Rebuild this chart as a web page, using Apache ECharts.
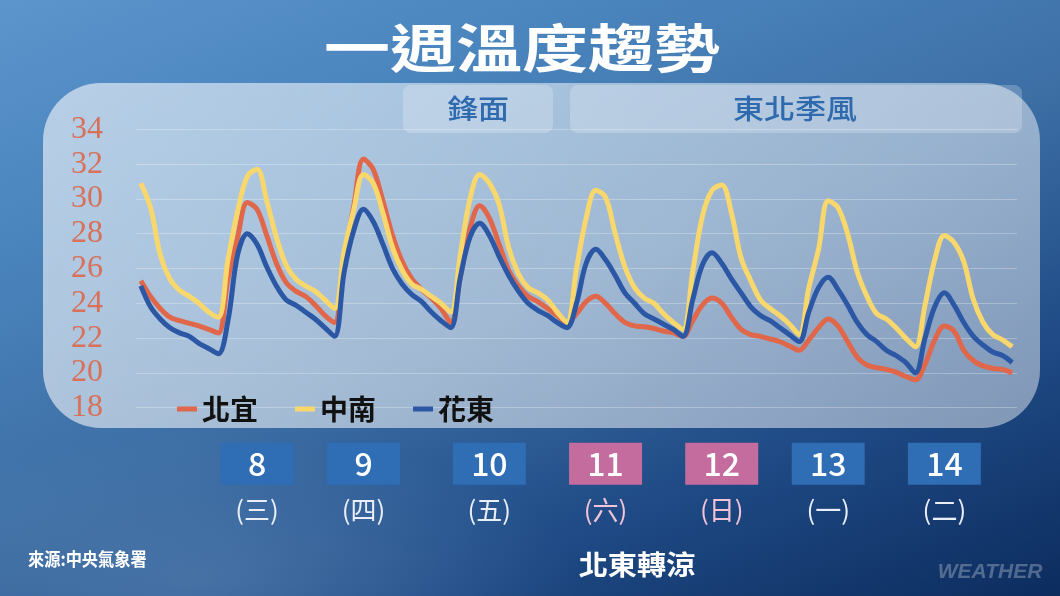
<!DOCTYPE html>
<html><head><meta charset="utf-8">
<script src="https://cdn.jsdelivr.net/npm/echarts@6/dist/echarts.min.js"></script>
<style>
html,body{margin:0;padding:0;}
#c{width:1060px;height:596px;
background:
 radial-gradient(ellipse 380px 150px at 200px 580px, rgba(110,150,195,0.40), rgba(110,150,195,0) 100%),
 linear-gradient(158deg, #5c95cc 0%, #4a84bd 25%, #3d6fa5 50%, #1f4a85 75%, #0c2c5e 100%);}
</style>
</head><body><div id="c"></div>
<script>
// ---- time categories (2-hourly, from day 7 14:00) ----
const startDay = 7, startHour = 14, stepHours = 2, nPoints = 91;
const categories = [];
for (let i = 0; i < nPoints; i++) {
  const h = startHour + i * stepHours;
  categories.push((startDay + Math.floor(h / 24)) + '日' + String(h % 24).padStart(2, '0') + '時');
}
// ---- series values (°C) ----
const beiyi = [25.3,24.4,23.7,23.2,23.0,22.85,22.7,22.5,22.3,25.4,27.8,29.8,29.4,27.9,26.3,25.2,24.7,24.4,23.9,23.3,22.9,
  26.6,29.6,32.3,31.7,29.9,27.9,26.4,25.4,24.8,24.3,23.7,22.9,
  25.5,28.3,29.6,28.9,27.4,25.9,25.0,24.4,24.1,23.7,23.3,22.9,
  23.4,24.1,24.4,24.0,23.4,22.9,22.7,22.65,22.55,22.4,22.3,22.1,
  23.0,23.9,24.3,24.0,23.2,22.5,22.2,22.1,21.95,21.8,21.55,21.3,
  21.9,22.6,23.1,22.7,21.8,20.9,20.45,20.3,20.2,20.05,19.8,19.6,
  20.5,21.9,22.7,22.4,21.3,20.7,20.4,20.25,20.2,20.0];
const zhongnan = [30.9,29.5,26.8,25.4,24.75,24.4,24.0,23.5,23.2,26.5,29.3,31.3,31.7,29.9,27.8,26.2,25.4,25.0,24.7,24.2,23.7,
  27.0,29.4,31.4,30.9,29.2,27.2,25.9,25.1,24.8,24.4,24.0,23.5,
  26.8,30.0,31.4,30.9,29.7,27.2,25.7,24.9,24.6,24.2,23.5,22.9,
  26.0,28.9,30.5,30.1,28.0,26.1,24.9,24.3,24.0,23.4,22.9,22.5,
  25.8,29.0,30.5,30.8,29.2,26.6,25.3,24.2,23.7,23.3,22.8,22.2,
  24.9,27.1,29.9,29.5,28.0,25.8,24.4,23.4,23.1,22.6,22.0,21.5,
  23.9,26.5,27.9,27.5,26.4,24.2,22.9,22.2,21.9,21.5];
const huadong = [25.0,23.8,23.1,22.6,22.3,22.1,21.7,21.4,21.1,23.0,26.8,28.0,27.4,26.1,25.0,24.2,23.9,23.5,23.1,22.6,22.1,
  25.8,28.2,29.4,28.7,27.4,26.0,25.1,24.5,24.1,23.5,23.0,22.6,
  25.5,27.8,28.6,27.9,26.7,25.6,24.7,24.0,23.6,23.3,22.9,22.6,
  24.0,26.3,27.1,26.5,25.6,24.6,24.0,23.4,23.1,22.8,22.5,22.1,
  24.2,26.2,26.9,26.3,25.4,24.6,23.8,23.3,23.0,22.6,22.2,21.8,
  23.5,24.9,25.5,24.8,23.9,22.9,22.2,21.8,21.3,21.0,20.6,20.0,
  22.0,23.8,24.6,23.9,22.9,22.1,21.6,21.2,21.0,20.6];
// ---- axis / labels ----
const yMin = 18, yMax = 34, yStep = 2;
const dayNumbers = ['8','9','10','11','12','13','14'];
const weekdayLabels = ['(三)','(四)','(五)','(六)','(日)','(一)','(二)'];
const weekendFlags = [false,false,false,true,true,false,false];
const dayLabelIndex = [12,23,36,48,60,71,83];
const seriesNames = ['北宜','中南','花東'];
const seriesColors = ['#e0674a','#f8d76c','#2b57a4'];
const titleText = '一週溫度趨勢';
const phaseLabels = ['鋒面','東北季風'];
const sourceText = '來源:中央氣象署';
const noteText = '北東轉涼';

const chart = echarts.init(document.getElementById('c'), null, {renderer: 'canvas'});
const boxBase = {color:'#fff', width:73, height:42, lineHeight:42, align:'center', fontSize:32, fontWeight:500, fontFamily:'Noto Sans CJK TC'};
const rich = {
  b: Object.assign({backgroundColor:'#2f6db4'}, boxBase),
  p: Object.assign({backgroundColor:'#c46c9d'}, boxBase),
  bw: {color:'#e9eef8', fontSize:26, lineHeight:50, align:'center', fontFamily:'Noto Sans CJK TC'},
  pw: {color:'#f3c4d8', fontSize:26, lineHeight:50, align:'center', fontFamily:'Noto Sans CJK TC'}
};
chart.setOption({
  animation: false,
  backgroundColor: 'transparent',
  grid: {left:136, right:43, top:129.3, bottom:188.3},
  legend: {
    left:172, top:390, icon:'rect', itemWidth:20, itemHeight:5, itemGap:37,
    textStyle:{fontFamily:'Noto Sans CJK TC', fontWeight:'bold', fontSize:28, color:'#111'},
    data: seriesNames
  },
  xAxis: {
    type:'category', data:categories, boundaryGap:true,
    axisLine:{show:false}, axisTick:{show:false}, splitLine:{show:false},
    axisLabel:{
      margin:35, hideOverlap:false,
      interval: (idx) => dayLabelIndex.indexOf(idx) >= 0,
      formatter: (val, idx) => {
        const k = dayLabelIndex.indexOf(idx);
        if (k < 0) return '';
        const s = weekendFlags[k] ? 'p' : 'b';
        return '{' + s + '|' + dayNumbers[k] + '}\n{' + s + 'w|' + weekdayLabels[k] + '}';
      },
      rich: rich
    }
  },
  yAxis: {
    type:'value', min:yMin, max:yMax, interval:yStep,
    axisLine:{show:false}, axisTick:{show:false},
    axisLabel:{color:'#d8705a', fontFamily:'Liberation Serif', fontSize:32, margin:33},
    splitLine:{lineStyle:{color:'rgba(255,255,255,0.28)', width:1}}
  },
  series: [beiyi, zhongnan, huadong].map((d, i) => ({
    name: seriesNames[i], type:'line', data:d, smooth:0.35, symbol:'none',
    lineStyle:{width:5, color:seriesColors[i]}, itemStyle:{color:seriesColors[i]}
  })),
  graphic: [
    {type:'rect', z:-2, shape:{x:43, y:83, width:997, height:345, r:58},
      style:{fill:{type:'linear', x:0, y:0, x2:1, y2:1, colorStops:[
        {offset:0, color:'rgba(255,255,255,0.58)'}, {offset:1, color:'rgba(255,255,255,0.45)'}]}}},
    {type:'rect', z:-1, shape:{x:403, y:85, width:150, height:48, r:8}, style:{fill:'rgba(255,255,255,0.22)'}},
    {type:'rect', z:-1, shape:{x:570, y:85, width:452, height:48, r:8}, style:{fill:'rgba(255,255,255,0.22)'}},
    {type:'text', x:478, y:109, scaleX:1.15, style:{text:phaseLabels[0], fill:'#2f6aae', font:'500 27px "Noto Sans CJK TC"', textAlign:'center', textVerticalAlign:'middle'}},
    {type:'text', x:795, y:109, scaleX:1.15, style:{text:phaseLabels[1], fill:'#2f6aae', font:'500 27px "Noto Sans CJK TC"', textAlign:'center', textVerticalAlign:'middle'}},
    {type:'text', x:522, y:48, scaleX:1.27, style:{text:titleText, fill:'#ffffff', font:'bold 52px "Noto Sans CJK TC"', textAlign:'center', textVerticalAlign:'middle'}},
    {type:'text', x:28, y:559, scaleX:0.9, style:{text:sourceText, fill:'#ffffff', font:'bold 18px "Noto Sans CJK TC"', textAlign:'left', textVerticalAlign:'middle'}},
    {type:'text', x:637, y:565, scaleX:1.08, style:{text:noteText, fill:'#ffffff', font:'bold 27px "Noto Sans CJK TC"', textAlign:'center', textVerticalAlign:'middle'}},
    {type:'text', x:990, y:572, style:{text:'WEATHER', fill:'rgba(255,255,255,0.28)', font:'italic bold 21px "Liberation Sans"', textAlign:'center', textVerticalAlign:'middle'}}
  ]
});
</script>
</body></html>
